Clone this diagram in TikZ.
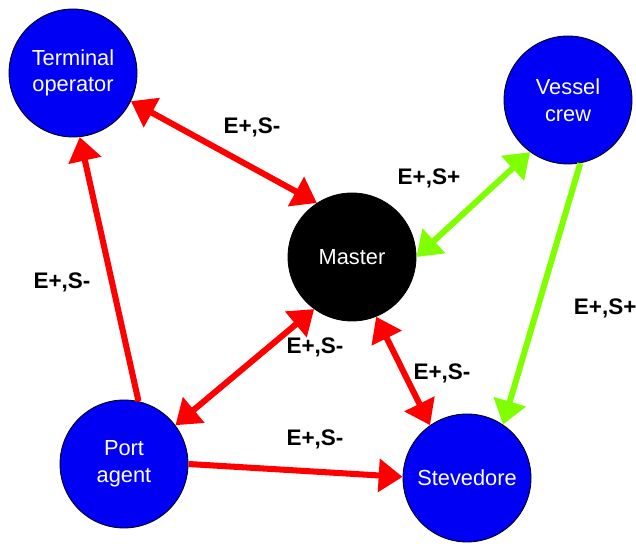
\documentclass[tikz,border=0pt]{standalone}
\usepackage{fontspec}
\setmainfont{Liberation Sans}
\usetikzlibrary{arrows.meta}
\definecolor{linkred}{RGB}{255,0,0}
\definecolor{linkgreen}{RGB}{128,255,0}
\definecolor{actorblue}{RGB}{0,0,245}
\begin{document}
\begin{tikzpicture}[
    actor/.style={draw=black,line width=0.6pt,fill=actorblue,circle,minimum size=3.2cm,inner sep=0pt,
        text=white,align=center,font=\fontsize{15.5}{19}\selectfont},
    link/.style={line width=4.3pt,-{Triangle[length=17pt,width=23pt]}},
    twolink/.style={line width=4.3pt,{Triangle[length=17pt,width=23pt]}-{Triangle[length=17pt,width=23pt]}},
    rel/.style={font=\fontsize{16}{19}\selectfont\bfseries}
    ]
    \useasboundingbox (0,0) rectangle (15.9,13.6);
    %% Actors
    \node[actor] (TO) at (1.825,11.775) {Terminal\\operator};
    \node[actor] (VC) at (14.2,11.1) {Vessel\\crew};
    \node[actor,fill=black] (MA) at (8.8,7.175) {Master};
    \node[actor] (PA) at (3.1,2.0) {Port\\agent};
    \node[actor] (ST) at (11.675,1.65) {Stevedore};
    %% Links
    \draw[twolink,linkred] (TO.-26) -- (MA.123);
    \draw[link,linkred] (PA.77) -- (TO.-84);
    \draw[twolink,linkgreen] (MA.0) -- (VC.-126);
    \draw[link,linkgreen] (VC.-79) -- (ST.56);
    \draw[twolink,linkred] (PA.37) -- (MA.-126);
    \draw[twolink,linkred] (MA.-68) -- (ST.125);
    \draw[link,linkred] (PA.0) -- (ST.179);
    %% Labels
    \node[rel] (l1) at (6.3,10.425) {E+,S-};
    \node[rel] (l2) at (10.725,9.15) {E+,S+};
    \node[rel] (l3) at (1.55,6.55) {E+,S-};
    \node[rel] (l4) at (15.13,5.9) {E+,S+};
    \node[rel] (l5) at (7.875,4.925) {E+,S-};
    \node[rel] (l6) at (11.05,4.275) {E+,S-};
    \node[rel] (l7) at (7.875,2.625) {E+,S-};
\end{tikzpicture}
\end{document}
